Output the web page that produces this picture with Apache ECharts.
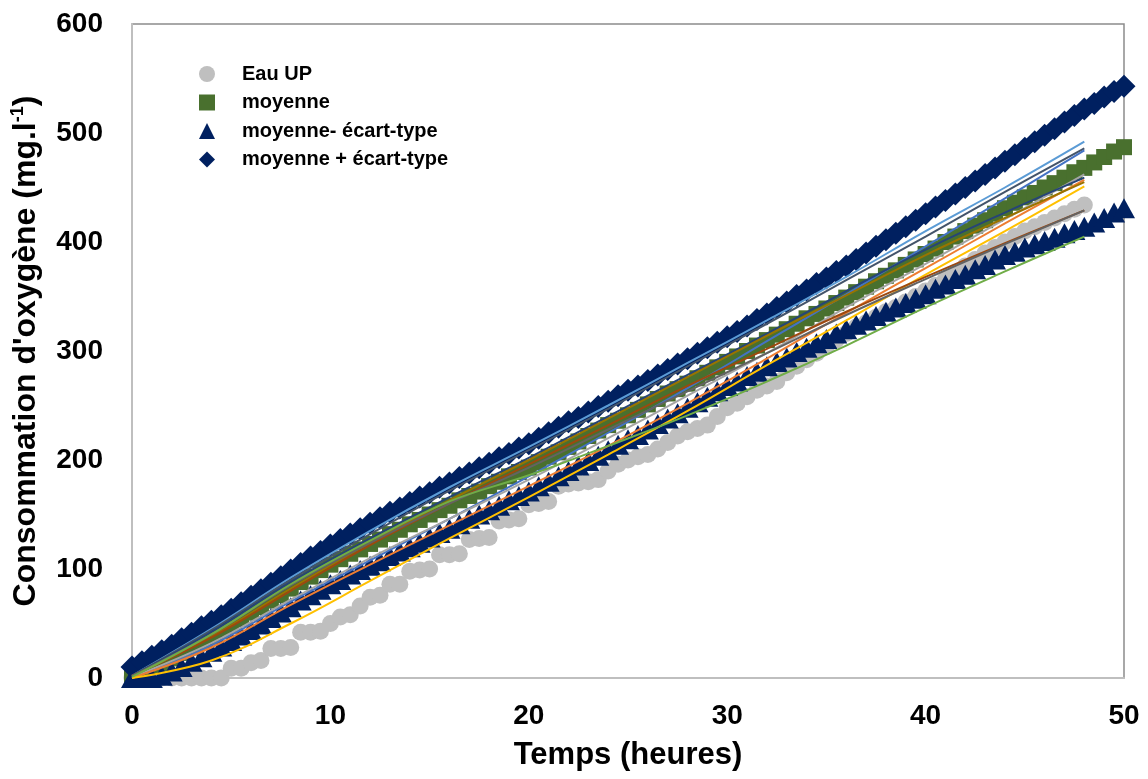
<!DOCTYPE html>
<html>
<head>
<meta charset="utf-8">
<script src="https://cdn.jsdelivr.net/npm/echarts@6/dist/echarts.min.js"></script>
<style>
html,body{margin:0;padding:0;background:#fff;}
#chart{width:1148px;height:779px;}
</style>
</head>
<body>
<div id="chart"></div>
<script>
// ---- Data ----
const xTicks = [0, 10, 20, 30, 40, 50];
const yTicks = [0, 100, 200, 300, 400, 500, 600];

// time grid of the mean series (hours)
const timeMean = [0,0.5,1,1.5,2,2.5,3,3.5,4,4.5,5,5.5,6,6.5,7,7.5,8,8.5,9,9.5,10,10.5,11,11.5,12,12.5,13,13.5,14,14.5,15,15.5,16,16.5,17,17.5,18,18.5,19,19.5,20,20.5,21,21.5,22,22.5,23,23.5,24,24.5,25,25.5,26,26.5,27,27.5,28,28.5,29,29.5,30,30.5,31,31.5,32,32.5,33,33.5,34,34.5,35,35.5,36,36.5,37,37.5,38,38.5,39,39.5,40,40.5,41,41.5,42,42.5,43,43.5,44,44.5,45,45.5,46,46.5,47,47.5,48,48.5,49,49.5,50];

// time grid of the water blank (hours)
const timeEau = [0,0.5,1,1.5,2,2.5,3,3.5,4,4.5,5,5.5,6,6.5,7,7.5,8,8.5,9,9.5,10,10.5,11,11.5,12,12.5,13,13.5,14,14.5,15,15.5,16,16.5,17,17.5,18,18.5,19,19.5,20,20.5,21,21.5,22,22.5,23,23.5,24,24.5,25,25.5,26,26.5,27,27.5,28,28.5,29,29.5,30,30.5,31,31.5,32,32.5,33,33.5,34,34.5,35,35.5,36,36.5,37,37.5,38,38.5,39,39.5,40,40.5,41,41.5,42,42.5,43,43.5,44,44.5,45,45.5,46,46.5,47,47.5,48];

const eauUP = [0,0,0,0,0,0,0,0,0,0,9,9,14,16,27,27,28,42,42,43,50,56,58,66,74,76,86,86,98,99,100,113,113,114,127,128,129,144,145,146,159,160,162,176,178,179,180,182,190,196,200,203,205,210,216,222,226,229,232,240,248,252,258,264,268,272,280,286,292,298,304,310,316,322,326,331,336,340,345,350,355,360,366,372,378,384,390,395,400,405,410,414,418,422,426,430,434];

const moyenne = [3,7,10,13,18,23,28,33,38,43,48,54,60,65,71,76,82,88,93,99,104,109,114,118,123,127,132,136,141,145,150,154,158,163,167,171,176,180,185,189,193,198,203,207,212,217,222,227,232,236,241,246,251,256,261,265,270,275,280,285,290,295,300,305,310,315,320,325,330,334,339,344,349,354,359,364,369,374,379,384,389,394,400,405,410,415,420,426,431,436,441,445,450,454,459,464,468,473,478,483,487];

const moyMoinsET = [0,0,0,2,6,10,15,19,24,29,34,39,44,49,55,60,65,71,76,81,86,90,95,99,103,107,112,116,120,124,129,133,137,141,146,150,154,158,163,167,171,176,180,185,190,195,199,204,209,214,219,223,228,233,238,243,248,253,258,263,268,272,277,281,286,290,294,299,303,307,311,316,320,324,328,332,336,340,344,348,352,357,361,366,370,375,379,384,388,391,395,398,401,404,408,411,414,418,422,427,431];

const moyPlusET = [10,15,20,25,30,36,41,47,52,57,63,69,75,81,87,93,99,105,111,116,122,127,132,137,142,147,152,156,161,166,170,175,179,184,188,193,197,202,206,211,215,220,225,230,235,239,244,249,254,259,264,268,273,278,283,288,293,298,303,308,313,318,323,329,334,340,345,351,356,362,367,373,378,384,390,396,402,408,414,420,426,432,438,444,450,456,462,468,474,480,486,492,498,504,510,516,522,527,533,538,543];

// individual replicate curves (thin lines), sampled every 4 h
const timeRep = [0,4,8,12,16,20,24,28,32,36,40,44,48];
const rep1  = [2,45,92,135,175,212,250,289,328,368,410,450,492];
const rep2  = [2,44,90,132,172,209,247,286,325,365,405,446,486];
const rep3  = [0,30,70,108,146,185,225,266,309,352,396,440,484];
const rep4  = [1,32,72,110,146,182,220,259,298,340,380,421,462];
const rep5  = [2,42,88,128,166,202,240,278,316,355,393,427,459];
const rep6  = [0,28,67,104,140,176,213,252,293,335,376,417,457];
const rep7  = [2,38,82,124,163,200,238,276,314,351,388,422,455];
const rep8  = [0,16,50,89,128,166,205,245,287,328,370,410,451];
const rep9  = [2,37,80,122,160,196,232,268,302,336,368,399,429];
const rep10 = [2,40,85,124,160,193,228,263,298,333,366,398,429];
const rep11 = [1,40,86,126,162,186,213,241,272,305,340,373,405];

const repList = [rep1, rep2, rep3, rep4, rep5, rep6, rep7, rep8, rep9, rep10, rep11];
const repColors = ['#5B9BD5','#44546A','#4472C4','#A5A5A5','#264478','#ED7D31','#997300','#FFC000','#9E480E','#636363','#70AD47'];

// ---- Chart ----
const FONT = '"Liberation Sans", Arial, sans-serif';
const pairs = (xs, ys) => xs.map((x, i) => [x, ys[i]]);

const series = [
  { name: 'Eau UP', type: 'scatter', symbol: 'circle', symbolSize: 17, clip: false,
    itemStyle: { color: '#BFBFBF', opacity: 1 }, z: 2, data: pairs(timeEau, eauUP) },
  { name: 'moyenne', type: 'scatter', symbol: 'rect', symbolSize: 16, clip: false,
    itemStyle: { color: '#49702E', opacity: 1 }, z: 2, data: pairs(timeMean, moyenne) },
  { name: 'moyenne- écart-type', type: 'scatter', symbol: 'triangle', symbolSize: [22, 20], clip: false,
    itemStyle: { color: '#002060', opacity: 1 }, z: 2, data: pairs(timeMean, moyMoinsET) },
  { name: 'moyenne + écart-type', type: 'scatter', symbol: 'diamond', symbolSize: 23, clip: false,
    itemStyle: { color: '#002060', opacity: 1 }, z: 2, data: pairs(timeMean, moyPlusET) }
];
repList.forEach((r, i) => {
  series.push({ name: 'rep' + (i + 1), type: 'line', smooth: 0.4, showSymbol: false, symbol: 'none',
    lineStyle: { color: repColors[i], width: 2 }, z: 3, silent: true, data: pairs(timeRep, r) });
});

const chart = echarts.init(document.getElementById('chart'), null, { renderer: 'canvas' });
chart.setOption({
  animation: false,
  backgroundColor: '#fff',
  grid: { left: 132, right: 24, top: 24, bottom: 101, outerBoundsMode: 'none', containLabel: false,
    show: true, borderColor: '#8C8C8C', borderWidth: 1.5 },
  legend: {
    orient: 'vertical', left: 194, top: 59, itemWidth: 16, itemHeight: 16, itemGap: 8.5,
    data: ['Eau UP', 'moyenne', 'moyenne- écart-type', 'moyenne + écart-type'],
    textStyle: { fontFamily: FONT, fontWeight: 'bold', fontSize: 20, color: '#000', padding: [0, 0, 0, 22] }
  },
  xAxis: {
    type: 'value', min: 0, max: 50, interval: 10,
    name: 'Temps (heures)', nameLocation: 'middle', nameGap: 62,
    nameTextStyle: { fontFamily: FONT, fontWeight: 'bold', fontSize: 31, color: '#000' },
    axisLine: { show: true, lineStyle: { color: '#BFBFBF', width: 2 } },
    axisTick: { show: false }, splitLine: { show: false },
    axisLabel: { fontFamily: FONT, fontWeight: 'bold', fontSize: 28, color: '#000', margin: 24,
      formatter: v => xTicks.includes(v) ? String(v) : '' }
  },
  yAxis: {
    type: 'value', min: 0, max: 600, interval: 100,
    name: '{t|Consommation d\'oxygène (mg.l}{s|-1}{t|)}', nameLocation: 'middle', nameGap: 88, nameRotate: 90,
    nameTextStyle: { fontFamily: FONT, fontWeight: 'bold', fontSize: 32, color: '#000',
      rich: {
        t: { fontFamily: FONT, fontWeight: 'bold', fontSize: 32, color: '#000', lineHeight: 35 },
        s: { fontFamily: FONT, fontWeight: 'bold', fontSize: 18, color: '#000', verticalAlign: 'top', lineHeight: 35, padding: [0, 0, 14, 0] }
      } },
    axisLine: { show: true, lineStyle: { color: '#BFBFBF', width: 2 } },
    axisTick: { show: false }, splitLine: { show: false },
    axisLabel: { fontFamily: FONT, fontWeight: 'bold', fontSize: 28, color: '#000', margin: 29,
      formatter: v => yTicks.includes(v) ? String(v) : '' }
  },
  series: series
});
</script>
</body>
</html>
